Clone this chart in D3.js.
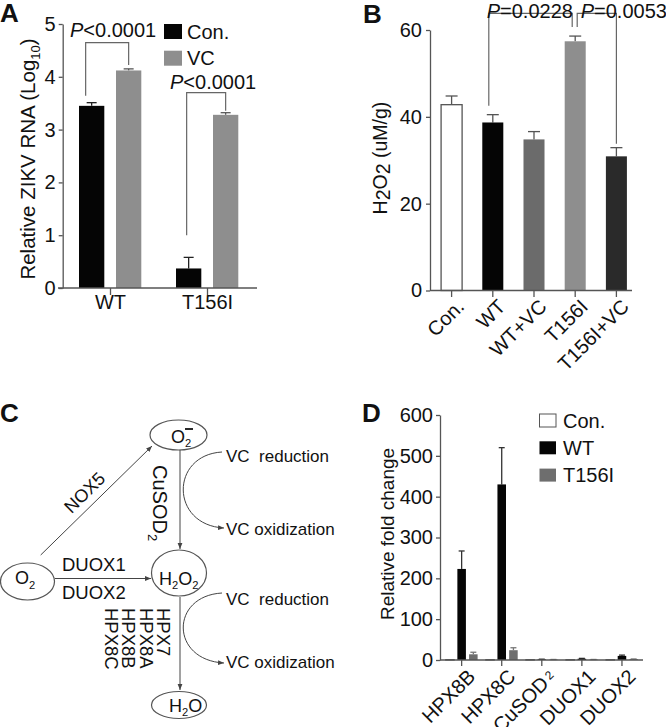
<!DOCTYPE html>
<html><head><meta charset="utf-8">
<script src="https://cdn.jsdelivr.net/npm/d3@7"></script>
<style>
html,body{margin:0;padding:0;background:#fff;}
svg text{font-family:"Liberation Sans",Arial,sans-serif;fill:#111;}
</style></head>
<body>
<svg id="chart" width="666" height="727"></svg>
<script>
// ---------- DATA ----------
// Panel A
const aGroups = ["WT", "T156I"];
const aSeries = ["Con.", "VC"];
const aCon = [3.45, 0.37];
const aConErr = [0.06, 0.21];
const aVC = [4.12, 3.28];
const aVCErr = [0.03, 0.04];
const aTicks = [0, 1, 2, 3, 4, 5];
const aPLabels = ["<0.0001", "<0.0001"];
// Panel B
const bCats = ["Con.", "WT", "WT+VC", "T156I", "T156I+VC"];
const bVals = [42.8, 38.7, 34.8, 57.4, 30.9];
const bErr = [2.0, 1.8, 1.8, 1.2, 2.0];
const bTicks = [0, 20, 40, 60];
const bPLabels = ["=0.0228", "=0.0053"];
// Panel C (pathway text)
const cVCtop = "VC  reduction";
const cVCbot = "VC oxidization";
const cHPX = ["HPX7", "HPX8A", "HPX8B", "HPX8C"];
const cDUOX = ["DUOX1", "DUOX2"];
// Panel D
const dGenes = ["HPX8B", "HPX8C", "CuSOD2", "DUOX1", "DUOX2"];
const dSeries = ["Con.", "WT", "T156I"];
const dCon = [1, 1, 1, 1, 1];
const dWT = [223, 430, 1.5, 3, 10];
const dWTErr = [44, 90, 0.5, 1, 2];
const dT156I = [14, 24, 1, 1, 2];
const dT156IErr = [5, 6, 0.3, 0.3, 0.5];
const dTicks = [0, 100, 200, 300, 400, 500, 600];

// ---------- HELPERS ----------
const svg = d3.select("#chart");
const FS = 20;
const AX = "#555";

const defs = svg.append("defs");
defs.append("marker").attr("id","arr").attr("viewBox","0 0 10 10")
  .attr("refX",10).attr("refY",5).attr("markerWidth",6).attr("markerHeight",6)
  .attr("orient","auto-start-reverse")
  .append("path").attr("d","M0,1 L10,5 L0,9 z").attr("fill","#444");

function styleAxis(g){
  g.selectAll("path.domain").attr("stroke",AX).attr("stroke-width",1.3);
  g.selectAll(".tick line").attr("stroke",AX).attr("stroke-width",1.3);
  g.selectAll(".tick text").style("font-size",FS+"px").style("font-family",'"Liberation Sans",Arial,sans-serif').attr("fill","#111");
}
function panelLabel(x,y,t){
  svg.append("text").attr("x",x).attr("y",y).text(t)
    .style("font-size","26px").style("font-weight","bold");
}
function errBar(g, x, y0, y1, w, col){
  g.append("line").attr("x1",x).attr("x2",x).attr("y1",y0).attr("y2",y1).attr("stroke",col).attr("stroke-width",1.3);
  g.append("line").attr("x1",x-w/2).attr("x2",x+w/2).attr("y1",y1).attr("y2",y1).attr("stroke",col).attr("stroke-width",1.3);
}
function bracket(g, x1, y1, x2, y2, top){
  g.append("path").attr("d",`M${x1},${y1} V${top} H${x2} V${y2}`)
    .attr("fill","none").attr("stroke","#666").attr("stroke-width",1.2);
}
function pText(g, x, y, rest){
  const t = g.append("text").attr("x",x).attr("y",y).style("font-size",FS+"px");
  t.append("tspan").style("font-style","italic").text("P");
  t.append("tspan").text(rest);
  return t;
}

// ---------- PANEL A ----------
(function(){
  const g = svg.append("g");
  const y = d3.scaleLinear().domain([0,5]).range([288,24]);
  const x0 = d3.scaleBand().domain(aGroups).range([62,256]).padding(0);
  const x1 = d3.scaleBand().domain(aSeries).range([17,79.3]).paddingInner(0.316).paddingOuter(0);
  const colors = {"Con.":"#050505","VC":"#8e8e8e"};
  const errCol = {"Con.":"#222","VC":"#555"};
  const data = aGroups.map((grp,i)=>({grp, vals:[{s:"Con.",v:aCon[i],e:aConErr[i]},{s:"VC",v:aVC[i],e:aVCErr[i]}]}));
  data.forEach(d=>{
    d.vals.forEach(b=>{
      const bx = x0(d.grp)+x1(b.s);
      const cx = bx + x1.bandwidth()/2;
      errBar(g, cx, y(b.v), y(b.v+b.e), 10, errCol[b.s]);
      g.append("rect").attr("x",bx).attr("y",y(b.v)).attr("width",x1.bandwidth()).attr("height",y(0)-y(b.v))
        .attr("fill",colors[b.s]);
    });
  });
  const ya = g.append("g").attr("transform","translate(62.7,0)")
    .call(d3.axisLeft(y).tickValues(aTicks).tickFormat(d3.format("d")).tickSize(4).tickPadding(3).tickSizeOuter(0));
  styleAxis(ya);
  // x axis
  g.append("line").attr("x1",58).attr("x2",257).attr("y1",288).attr("y2",288).attr("stroke",AX).attr("stroke-width",1.3);
  aGroups.forEach(grp=>{
    const cx = x0(grp)+x0.bandwidth()/2;
    g.append("line").attr("x1",cx).attr("x2",cx).attr("y1",288).attr("y2",295).attr("stroke",AX).attr("stroke-width",1.3);
    g.append("text").attr("x",cx).attr("y",309).attr("text-anchor","middle").style("font-size",FS+"px").text(grp);
  });
  // brackets
  const c = (grp,s)=>x0(grp)+x1(s)+x1.bandwidth()/2;
  bracket(g, c("WT","Con.")-6, y(aCon[0]+aConErr[0])-7, c("WT","VC"), y(aVC[0]+aVCErr[0])-4, 42.7);
  pText(g, 70, 36.5, aPLabels[0]);
  bracket(g, c("T156I","Con.")-2, y(1.0), c("T156I","VC"), y(aVC[1]+aVCErr[1])-2, 92.7);
  pText(g, 170, 88.5, aPLabels[1]);
  // legend
  aSeries.forEach((s,i)=>{
    g.append("rect").attr("x",164).attr("y",24+i*26.7).attr("width",18).attr("height",15).attr("fill",colors[s]);
    g.append("text").attr("x",187).attr("y",38.5+i*26.7).style("font-size",FS+"px").text(s);
  });
  // y label
  const yl = g.append("text").attr("transform","translate(35,159) rotate(-90)").attr("text-anchor","middle").style("font-size","20.5px");
  yl.append("tspan").text("Relative ZIKV RNA (Log");
  yl.append("tspan").attr("dy",5).style("font-size","13px").text("10");
  yl.append("tspan").attr("dy",-5).text(")");
  panelLabel(0,22,"A");
})();

// ---------- PANEL B ----------
(function(){
  const g = svg.append("g");
  const y = d3.scaleLinear().domain([0,60]).range([290.5,30]);
  const x = d3.scaleBand().domain(bCats).range([431,637]).paddingInner(0.49).paddingOuter(0.245);
  const fills = ["#ffffff","#050505","#6b6b6b","#8e8e8e","#2a2a2a"];
  bCats.forEach((cat,i)=>{
    const cx = x(cat)+x.bandwidth()/2;
    errBar(g, cx, y(bVals[i]), y(bVals[i]+bErr[i]), 12, "#555");
    g.append("rect").attr("x",x(cat)).attr("y",y(bVals[i])).attr("width",x.bandwidth()).attr("height",y(0)-y(bVals[i]))
      .attr("fill",fills[i]).attr("stroke", i===0?"#555":"none").attr("stroke-width",1.3);
  });
  const ya = g.append("g").attr("transform","translate(430,0)")
    .call(d3.axisLeft(y).tickValues(bTicks).tickSize(4).tickPadding(4).tickSizeOuter(0));
  styleAxis(ya);
  g.append("line").attr("x1",430).attr("x2",632).attr("y1",290.5).attr("y2",290.5).attr("stroke",AX).attr("stroke-width",1.3);
  bCats.forEach(cat=>{
    const cx = x(cat)+x.bandwidth()/2;
    g.append("line").attr("x1",cx).attr("x2",cx).attr("y1",290.5).attr("y2",297).attr("stroke",AX).attr("stroke-width",1.3);
    g.append("text").attr("transform",`translate(${cx+4},298) rotate(-45)`).attr("text-anchor","end").attr("dy","0.7em")
      .style("font-size",FS+"px").text(cat);
  });
  const c = i=>x(bCats[i])+x.bandwidth()/2;
  bracket(g, c(1)-4, y(bVals[1]+bErr[1])-9, c(3)-3, y(bVals[3]+bErr[3])-9, 13.3);
  bracket(g, c(3)+2, y(bVals[3]+bErr[3])-9, c(4), y(bVals[4]+bErr[4])-4, 13.3);
  pText(g, 486.7, 18, bPLabels[0]);
  pText(g, 580.7, 18, bPLabels[1]);
  const yl = g.append("text").attr("transform","translate(387,158) rotate(-90)").attr("text-anchor","middle").style("font-size","19.5px");
  yl.append("tspan").text("H");
  yl.append("tspan").attr("dy",3).text("2");
  yl.append("tspan").attr("dy",-3).text("O");
  yl.append("tspan").attr("dy",3).text("2");
  yl.append("tspan").attr("dy",-3).text(" (uM/g)");
  panelLabel(363,23,"B");
})();

// ---------- PANEL C ----------
(function(){
  const g = svg.append("g");
  const st = {"stroke":"#555","stroke-width":1.2,"fill":"none"};
  function ell(cx,cy,rx,ry){ const e=g.append("ellipse").attr("cx",cx).attr("cy",cy).attr("rx",rx).attr("ry",ry); for(const k in st) e.attr(k,st[k]); }
  ell(178.5,435,28.5,15);    // O2-
  ell(27.5,581.5,27,18.5);   // O2
  ell(179,573,27.5,23);      // H2O2
  ell(179,705,27.5,13.5);    // H2O
  function arrow(d){ g.append("path").attr("d",d).attr("fill","none").attr("stroke","#444").attr("stroke-width",1).attr("marker-end","url(#arr)"); }
  arrow("M40.7,555 L152,446");
  arrow("M180,450 L180,549");
  arrow("M55,578.5 L151,578.5");
  arrow("M180,597 L180,690");
  arrow("M222,452 C170,455 170,525 224,528");
  arrow("M222,593 C170,596 170,660 224,663");
  // formulas
  function formula(x,y,parts,size){
    const t = g.append("text").attr("x",x).attr("y",y).style("font-size",size+"px");
    parts.forEach(p=>{
      const ts = t.append("tspan").text(p.t);
      if(p.sub){ ts.attr("dy",p.dy).style("font-size",(size*0.62)+"px"); }
      else if(p.dy){ ts.attr("dy",p.dy); }
    });
    return t;
  }
  formula(171,443,[{t:"O"},{t:"2",sub:true,dy:4}],18);
  g.append("line").attr("x1",185).attr("x2",193).attr("y1",429).attr("y2",429).attr("stroke","#111").attr("stroke-width",1.8);
  formula(15,584,[{t:"O"},{t:"2",sub:true,dy:5}],18);
  formula(159,585,[{t:"H"},{t:"2",sub:true,dy:4},{t:"O",dy:-4},{t:"2",sub:true,dy:4}],18);
  formula(169,712,[{t:"H"},{t:"2",sub:true,dy:4},{t:"O",dy:-4}],18);
  // NOX5
  g.append("text").attr("transform","translate(89,497) rotate(-44.5)").attr("text-anchor","middle").style("font-size","18px").text("NOX5");
  // CuSOD2
  const cs = g.append("text").attr("transform","translate(153,465) rotate(90)").style("font-size","20px");
  cs.append("tspan").text("CuSOD");
  cs.append("tspan").attr("dy",5).style("font-size","13px").text("2");
  // DUOX
  cDUOX.forEach((t,i)=>{
    g.append("text").attr("x",62).attr("y",571+i*28).style("font-size","18.5px").text(t);
  });
  // HPX
  cHPX.forEach((t,i)=>{
    g.append("text").attr("transform",`translate(${157-i*17.4},608) rotate(90)`).style("font-size","18.5px").text(t);
  });
  // VC texts
  [[461.5,cVCtop],[535,cVCbot],[605,cVCtop],[668,cVCbot]].forEach(([yy,t])=>{
    g.append("text").attr("x",226).attr("y",yy).style("font-size","17px").style("white-space","pre").attr("xml:space","preserve").text(t);
  });
  panelLabel(0,422,"C");
})();

// ---------- PANEL D ----------
(function(){
  const g = svg.append("g");
  const y = d3.scaleLinear().domain([0,600]).range([660,415]);
  const x0 = d3.scaleBand().domain(dGenes).range([441.6,642]).padding(0);
  const x1 = d3.scaleBand().domain(dSeries).range([-17.55,17.55]).paddingInner(0.27).paddingOuter(0.135);
  const fills = {"Con.":"#ffffff","WT":"#050505","T156I":"#6e6e6e"};
  const series = {"Con.":[dCon, dCon.map(()=>0)], "WT":[dWT,dWTErr], "T156I":[dT156I,dT156IErr]};
  dGenes.forEach((gene,i)=>{
    const gc = x0(gene)+x0.bandwidth()/2;
    dSeries.forEach(s=>{
      const v = series[s][0][i], e = series[s][1][i];
      const bx = gc + x1(s);
      const cx = bx + x1.bandwidth()/2;
      if(e>0) errBar(g, cx, y(v), y(v+e), 6, s==="WT"?"#333":"#777");
      g.append("rect").attr("x",bx).attr("y",y(v)).attr("width",x1.bandwidth()).attr("height",Math.max(0.5,y(0)-y(v)))
        .attr("fill",fills[s]).attr("stroke",s==="Con."?"#555":"none").attr("stroke-width",1);
    });
  });
  const ya = g.append("g").attr("transform","translate(440,0)")
    .call(d3.axisLeft(y).tickValues(dTicks).tickSize(4).tickPadding(3).tickSizeOuter(0));
  styleAxis(ya);
  g.append("line").attr("x1",440).attr("x2",643).attr("y1",660).attr("y2",660).attr("stroke",AX).attr("stroke-width",1.3);
  dGenes.forEach(gene=>{
    const cx = x0(gene)+x0.bandwidth()/2;
    g.append("line").attr("x1",cx).attr("x2",cx).attr("y1",660).attr("y2",666).attr("stroke",AX).attr("stroke-width",1.3);
    const t = g.append("text").attr("transform",`translate(${cx+5},668) rotate(-45)`).attr("text-anchor","end").attr("dy","0.7em")
      .style("font-size",FS+"px");
    if(gene==="CuSOD2"){
      t.append("tspan").text("CuSOD");
      t.append("tspan").attr("dx",3).attr("dy",-3).style("font-size","12px").text("2");
    } else t.text(gene);
  });
  dSeries.forEach((s,i)=>{
    g.append("rect").attr("x",539.5).attr("y",414+i*27.3).attr("width",16.5).attr("height",13)
      .attr("fill",fills[s]).attr("stroke",s==="Con."?"#555":"none").attr("stroke-width",1);
    g.append("text").attr("x",563).attr("y",427.5+i*27.3).style("font-size",FS+"px").text(s);
  });
  g.append("text").attr("transform","translate(394,534) rotate(-90)").attr("text-anchor","middle").style("font-size","19px").text("Relative fold change");
  panelLabel(362,422,"D");
})();
</script>
</body></html>
